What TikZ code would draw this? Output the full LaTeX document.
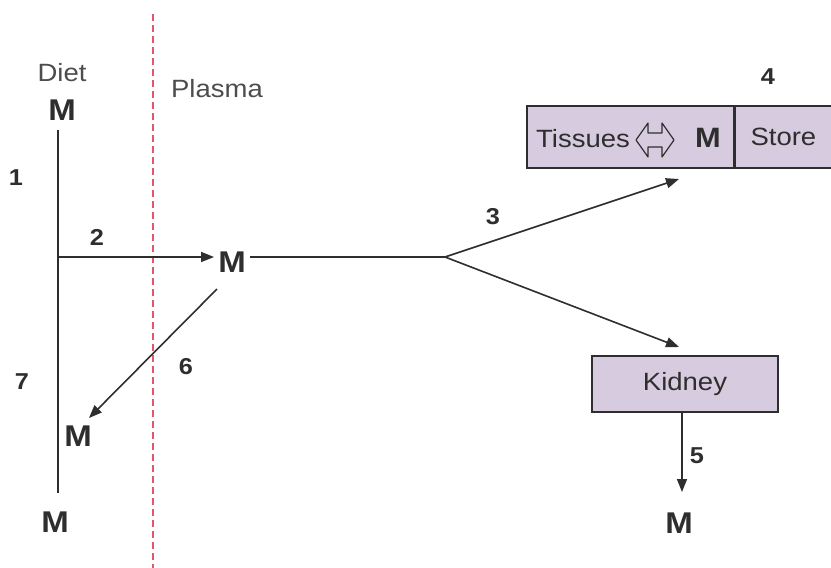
\documentclass[tikz,border=0pt]{standalone}
\usepackage{fontspec}
\setmainfont{Liberation Sans}[FakeStretch=1.1]
\usetikzlibrary{arrows.meta}
\usetikzlibrary{positioning}

\definecolor{organfill}{HTML}{D7CCDF}
\definecolor{ink}{HTML}{2E2E2E}
\definecolor{barrier}{HTML}{E4566E}

\tikzset{
  metal/.style={font=\fontsize{30}{32}\selectfont\bfseries, text=ink, inner sep=0pt},
  place/.style={font=\fontsize{25}{28}\selectfont, text=ink!85, inner sep=0pt},
  route/.style={font=\fontsize{23}{26}\selectfont\bfseries, text=ink, inner sep=0pt},
  organ/.style={draw=ink, line width=1.4pt, fill=organfill, inner sep=0pt},
  flow/.style={draw=ink, line width=1.6pt},
  flowarrow/.style={flow, -{Triangle[length=13pt, width=10pt]}},
}

\begin{document}
\begin{tikzpicture}[x=1pt, y=-1pt]

  \useasboundingbox (0,0) rectangle (831,568);

  % gut / plasma border
  \draw[barrier, line width=1.4pt, dash pattern=on 7pt off 4pt] (153,14) -- (153,568);

  \node[place] (diet) at (62,73) {Diet};
  \node[place] (plasma) at (217,89) {Plasma};

  % metal pools
  \node[metal] (m-diet) at (62,110) {M};
  \node[metal] (m-plasma) at (232,262) {M};
  \node[metal] (m-gut) at (78,436) {M};
  \node[metal] (m-faeces) at (55,522) {M};
  \node[metal] (m-urine) at (679,523) {M};

  % organ boxes
  \node[organ, minimum width=207pt, minimum height=62pt] (tissues) at (630.5,137) {};
  \node[organ, minimum width=96pt, minimum height=62pt, anchor=west,
        font=\fontsize{25}{28}\selectfont, text=ink] (store) at (tissues.east) {Store};
  \node[place, text=ink, anchor=west] (tissues-label) at (536,139) {Tissues};
  \coordinate (exchange) at (655,140);
  \draw[ink, line width=1.2pt, line join=round, shift={(exchange)}]
    (-19,0) -- (-7,-17) -- (-7,-7) -- (7,-7) -- (7,-17) -- (19,0)
    -- (7,17) -- (7,7) -- (-7,7) -- (-7,17) -- cycle;
  \node[metal, font=\fontsize{28}{30}\selectfont\bfseries] (m-tissue) at (708,138) {M};

  \node[organ, minimum width=186pt, minimum height=56pt,
        font=\fontsize{25}{28}\selectfont, text=ink] (kidney) at (685,384) {Kidney};

  % gut passage
  \coordinate (gut-top) at (58,130);
  \coordinate (gut-split) at (58,257);
  \coordinate (gut-end) at (58,493);
  \draw[flow] (gut-top) -- (gut-end);

  % absorption
  \draw[flowarrow, shorten >=4pt] (gut-split) -- (gut-split -| m-plasma.west);

  % distribution
  \coordinate (fork) at (445,257);
  \coordinate (tissue-in) at (679,179);
  \coordinate (kidney-in) at (679,347);
  \draw[flow, shorten <=4pt] (m-plasma.east |- fork) -- (fork);
  \draw[flowarrow] (fork) -- (tissue-in);
  \draw[flowarrow] (fork) -- (kidney-in);

  % excretion
  \coordinate (urine-out) at (682,492);
  \draw[flowarrow] (kidney.south -| urine-out) -- (urine-out);
  \coordinate (bile-out) at (217,289);
  \coordinate (bile-in) at (89,418);
  \draw[flowarrow] (bile-out) -- (bile-in);

  % route numbers
  \node[route] (r1) at (16,178) {1};
  \node[route] (r2) at (97,237) {2};
  \node[route] (r3) at (493,217) {3};
  \node[route] (r4) at (768,77) {4};
  \node[route] (r5) at (697,456) {5};
  \node[route] (r6) at (186,367) {6};
  \node[route] (r7) at (22,382) {7};

\end{tikzpicture}
\end{document}
